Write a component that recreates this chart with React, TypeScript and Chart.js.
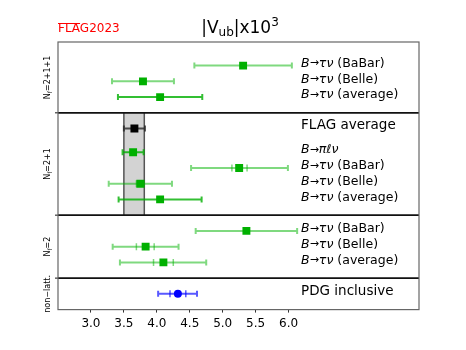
import React, { useEffect, useRef } from "react";
import { Chart, registerables } from "chart.js";

Chart.register(...registerables);

// ---------- data ----------
const ROW_LABELS = [
  "B→τν (BaBar)", "B→τν (Belle)", "B→τν (average)",
  "FLAG average", "B→πℓν", "B→τν (BaBar)", "B→τν (Belle)", "B→τν (average)",
  "B→τν (BaBar)", "B→τν (Belle)", "B→τν (average)",
  "PDG inclusive",
];
const ROW_Y = [1.5, 2.5, 3.5, 5.5, 7, 8, 9, 10, 12, 13, 14, 16];
const CENTRAL = [5.31, 3.79, 4.05, 3.66, 3.64, 5.25, 3.75, 4.05, 5.36, 3.83, 4.10, 4.32];
const ERR_LO = [4.57, 3.32, 3.41, 3.50, 3.48, 4.52, 3.27, 3.42, 4.59, 3.33, 3.44, 4.02];
const ERR_HI = [6.05, 4.26, 4.69, 3.82, 3.80, 5.99, 4.23, 4.68, 6.13, 4.33, 4.75, 4.61];
const STAT_LO: (number | null)[] = [null, null, null, null, null, 5.14, 3.69, null, null, 3.69, 3.95, 4.20];
const STAT_HI: (number | null)[] = [null, null, null, null, null, 5.37, 3.81, null, null, 3.96, 4.25, 4.44];
const KIND = ["lat", "lat", "latAvg", "flag", "latAvg", "lat", "lat", "latAvg", "lat", "lat", "lat", "pdg"];

const SEPARATORS = [4.5, 11, 15];
const GROUPS = [
  { name: "N", sub: "f", rest: "=2+1+1", y: 2.25 },
  { name: "N", sub: "f", rest: "=2+1", y: 7.75 },
  { name: "N", sub: "f", rest: "=2", y: 13 },
  { name: "non\u2212latt.", sub: "", rest: "", y: 16 },
];
const BAND = [3.5, 3.81];
const X_TICKS = [3.0, 3.5, 4.0, 4.5, 5.0, 5.5, 6.0];
const X_MIN = 2.5;
const X_MAX = 7.98;
const Y_MAX = 17;
const LABEL_X = 6.19;

const FONT = "'DejaVu Sans', sans-serif";

function drawSegments(ctx: CanvasRenderingContext2D, x: number, y: number, segs: { t: string; italic?: boolean; size?: number }[], size: number) {
  let cx = x;
  for (const s of segs) {
    const fs = s.size || size;
    ctx.font = `${s.italic ? "oblique " : ""}${fs}px ${FONT}`;
    ctx.fillText(s.t, cx, y);
    cx += ctx.measureText(s.t).width;
  }
  return cx;
}

function labelSegs(label: string) {
  if (label.startsWith("B→")) {
    const m = label.match(/^B→(\S+)(.*)$/)!;
    return [
      { t: "B", italic: true },
      { t: "→", size: 11 },
      { t: m[1], italic: true },
      { t: m[2] },
    ];
  }
  return [{ t: label }];
}

const overlay = {
  id: "overlay",
  beforeDatasetsDraw(chart: any) {
    const ctx: CanvasRenderingContext2D = chart.ctx;
    const xs = chart.scales.x, ys = chart.scales.y;
    ctx.save();
    // band
    const bx0 = xs.getPixelForValue(BAND[0]), bx1 = xs.getPixelForValue(BAND[1]);
    const by0 = ys.getPixelForValue(SEPARATORS[0]), by1 = ys.getPixelForValue(SEPARATORS[1]);
    ctx.fillStyle = "#d3d3d3";
    ctx.fillRect(bx0, by0, bx1 - bx0, by1 - by0);
    ctx.strokeStyle = "#555";
    ctx.lineWidth = 1.5;
    ctx.beginPath();
    ctx.moveTo(bx0, by0); ctx.lineTo(bx0, by1);
    ctx.moveTo(bx1, by0); ctx.lineTo(bx1, by1);
    ctx.stroke();

    // error bars
    for (let i = 0; i < CENTRAL.length; i++) {
      const y = ys.getPixelForValue(ROW_Y[i]);
      let col = "rgba(0,180,0,0.5)";
      if (KIND[i] === "latAvg") col = "rgba(0,175,0,0.8)";
      if (KIND[i] === "flag") col = "rgba(40,40,40,0.8)";
      if (KIND[i] === "pdg") col = "rgba(0,0,255,0.65)";
      ctx.strokeStyle = col;
      ctx.lineWidth = 2;
      const x0 = xs.getPixelForValue(ERR_LO[i]), x1 = xs.getPixelForValue(ERR_HI[i]);
      ctx.beginPath();
      ctx.moveTo(x0, y); ctx.lineTo(x1, y);
      ctx.moveTo(x0, y - 3); ctx.lineTo(x0, y + 3);
      ctx.moveTo(x1, y - 3); ctx.lineTo(x1, y + 3);
      ctx.stroke();
      const sl = STAT_LO[i], sh = STAT_HI[i];
      if (sl != null && sh != null) {
        const s0 = xs.getPixelForValue(sl), s1 = xs.getPixelForValue(sh);
        ctx.lineWidth = 1.5;
        ctx.beginPath();
        ctx.moveTo(s0, y - 3.5); ctx.lineTo(s0, y + 3.5);
        ctx.moveTo(s1, y - 3.5); ctx.lineTo(s1, y + 3.5);
        ctx.stroke();
      }
    }
    ctx.restore();
  },
  afterDraw(chart: any) {
    const ctx: CanvasRenderingContext2D = chart.ctx;
    const xs = chart.scales.x, ys = chart.scales.y;
    const area = chart.chartArea;
    ctx.save();
    // separators
    ctx.strokeStyle = "#111";
    for (const s of SEPARATORS) {
      const y = ys.getPixelForValue(s);
      ctx.lineWidth = 1.6;
      ctx.beginPath();
      ctx.moveTo(area.left, y); ctx.lineTo(area.right, y);
      ctx.stroke();
      ctx.lineWidth = 1;
      ctx.beginPath();
      ctx.moveTo(area.left - 3, y); ctx.lineTo(area.left, y);
      ctx.stroke();
    }
    // frame
    ctx.strokeStyle = "#666";
    ctx.lineWidth = 1.2;
    ctx.strokeRect(area.left, area.top, area.right - area.left, area.bottom - area.top);

    // labels
    ctx.fillStyle = "#000";
    ctx.textBaseline = "middle";
    ctx.textAlign = "left";
    const lx = xs.getPixelForValue(LABEL_X);
    for (let i = 0; i < ROW_LABELS.length; i++) {
      const y = ys.getPixelForValue(ROW_Y[i]) - 2;
      const fs = KIND[i] === "flag" || KIND[i] === "pdg" ? 13.5 : 12.5;
      drawSegments(ctx, lx, KIND[i] === "flag" ? y - 1 : y, labelSegs(ROW_LABELS[i]), fs);
    }

    // group labels (rotated)
    for (const g of GROUPS) {
      const y = ys.getPixelForValue(g.y);
      ctx.save();
      ctx.translate(48, y);
      ctx.rotate(-Math.PI / 2);
      ctx.textBaseline = "middle";
      ctx.font = `8px ${FONT}`;
      const w1 = ctx.measureText(g.name).width;
      ctx.font = `6px ${FONT}`;
      const w2 = ctx.measureText(g.sub).width;
      ctx.font = `8px ${FONT}`;
      const w3 = ctx.measureText(g.rest).width;
      let cx = -(w1 + w2 + w3) / 2;
      ctx.fillText(g.name, cx, 0); cx += w1;
      if (g.sub) { ctx.font = `6px ${FONT}`; ctx.fillText(g.sub, cx, 2); cx += w2; }
      ctx.font = `8px ${FONT}`;
      ctx.fillText(g.rest, cx, 0);
      ctx.restore();
    }

    // title |V_ub|x10^3
    ctx.textBaseline = "alphabetic";
    ctx.font = `17px ${FONT}`;
    const p1 = "|V", p3 = "|x10";
    const w1 = ctx.measureText(p1).width, w3 = ctx.measureText(p3).width;
    ctx.font = `12px ${FONT}`;
    const w2 = ctx.measureText("ub").width, w4 = ctx.measureText("3").width;
    let tx = 240 - (w1 + w2 + w3 + w4) / 2;
    const tb = 33;
    ctx.font = `17px ${FONT}`;
    ctx.fillText(p1, tx, tb); tx += w1;
    ctx.font = `12px ${FONT}`;
    ctx.fillText("ub", tx, tb + 3); tx += w2;
    ctx.font = `17px ${FONT}`;
    ctx.fillText(p3, tx, tb); tx += w3;
    ctx.font = `12px ${FONT}`;
    ctx.fillText("3", tx, tb - 7);

    // FLAG2023
    ctx.fillStyle = "#ff0000";
    ctx.strokeStyle = "#ff0000";
    ctx.font = `12px ${FONT}`;
    const fx = 58;
    const fw = ctx.measureText("FLA").width;
    ctx.fillText("FLAG2023", fx, 32);
    ctx.lineWidth = 1;
    ctx.beginPath();
    ctx.moveTo(fx, 23.5); ctx.lineTo(fx + fw, 23.5);
    ctx.stroke();
    ctx.restore();
  },
};

export default function App() {
  const ref = useRef<HTMLCanvasElement>(null);
  useEffect(() => {
    const pts = (kind: string) =>
      CENTRAL.map((c, i) => (KIND[i] === kind ? { x: c, y: ROW_Y[i] } : null)).filter(Boolean);
    const latPts = CENTRAL.map((c, i) => (KIND[i] === "lat" || KIND[i] === "latAvg" ? { x: c, y: ROW_Y[i] } : null)).filter(Boolean);
    const chart = new Chart(ref.current!, {
      type: "scatter",
      data: {
        datasets: [
          { data: latPts as any, pointStyle: "rect", pointRadius: 5.6, backgroundColor: "#00b000", borderWidth: 0 },
          { data: pts("flag") as any, pointStyle: "rect", pointRadius: 5.6, backgroundColor: "#000", borderWidth: 0 },
          { data: pts("pdg") as any, pointStyle: "circle", pointRadius: 4, backgroundColor: "#0000ff", borderWidth: 0 },
        ],
      },
      options: {
        animation: false,
        responsive: false,
        maintainAspectRatio: false,
        events: [],
        layout: { padding: { left: 58, right: 47, top: 42, bottom: 15 } },
        plugins: { legend: { display: false }, tooltip: { enabled: false }, title: { display: false } },
        scales: {
          x: {
            type: "linear",
            min: X_MIN,
            max: X_MAX,
            afterBuildTicks: (s: any) => { s.ticks = X_TICKS.map((v) => ({ value: v })); },
            grid: { drawOnChartArea: false, drawTicks: true, tickLength: 3, color: "#333" },
            border: { display: false },
            ticks: {
              color: "#000",
              font: { family: FONT, size: 12 },
              padding: 4,
              maxRotation: 0,
              callback: (v: any) => Number(v).toFixed(1),
            },
          },
          y: {
            type: "linear",
            min: 0,
            max: Y_MAX,
            reverse: true,
            display: false,
          },
        },
      },
      plugins: [overlay],
    });
    return () => chart.destroy();
  }, []);
  return (
    <div style={{ position: "fixed", left: 0, top: 0, width: 466, height: 350, background: "#fff" }}>
      <canvas ref={ref} width={466} height={350} style={{ width: 466, height: 350 }} />
    </div>
  );
}
